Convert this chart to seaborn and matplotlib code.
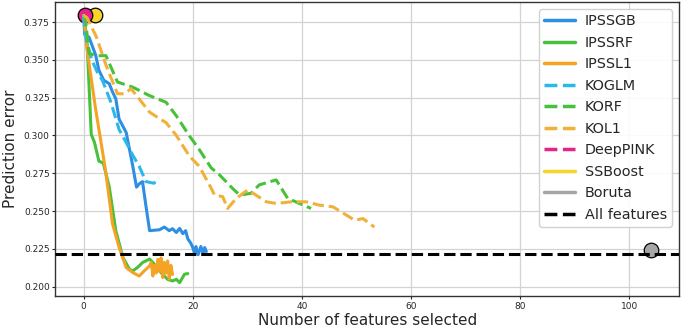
import numpy as np
import pandas as pd
import matplotlib
matplotlib.use("Agg")
import matplotlib.pyplot as plt
from matplotlib.lines import Line2D
import seaborn as sns

# IPSS curves (solid)
ipssgb_x = [0, 0.2, 1.0, 2.2, 2.8, 3.7, 4.7, 5.3, 5.9, 6.5, 7.8, 8.9, 9.7, 10.2, 10.8, 11.4,
            12.1, 13.9, 14.8, 15.7, 16.3, 17.0, 17.6, 18.2, 18.7, 19.1, 19.6, 20.0, 20.3,
            20.6, 21.0, 21.5, 21.9, 22.2, 22.5]
ipssgb_y = [0.3795, 0.3667, 0.365, 0.3533, 0.3432, 0.3365, 0.3343, 0.3288, 0.3243, 0.3109,
            0.302, 0.2819, 0.2658, 0.268, 0.2695, 0.254, 0.237, 0.2376, 0.2394, 0.237, 0.2383,
            0.2358, 0.2385, 0.235, 0.237, 0.2316, 0.229, 0.226, 0.2224, 0.2265, 0.2211,
            0.2265, 0.2218, 0.2258, 0.2232]

ipssrf_x = [0, 0.6, 1.4, 2.0, 2.8, 3.6, 4.7, 5.9, 7.2, 8.4, 9.0, 10.0, 10.8, 12.1, 12.7,
            13.9, 15.4, 16.3, 17.0, 17.6, 18.5, 19.1]
ipssrf_y = [0.3795, 0.3645, 0.3008, 0.2953, 0.283, 0.2818, 0.266, 0.237, 0.2193, 0.2115,
            0.2103, 0.213, 0.2159, 0.2182, 0.216, 0.2103, 0.2048, 0.2037, 0.2048, 0.2026,
            0.2082, 0.2086]

ipssl1_x = [0, 0.6, 2.2, 4.0, 5.3, 6.5, 7.8, 9.0, 10.2, 11.1, 12.1, 12.4, 12.7, 13.0, 13.3,
            13.6, 13.9, 14.2, 14.5, 14.8, 15.1, 15.4, 15.7, 16.0, 16.3]
ipssl1_y = [0.3795, 0.3578, 0.3175, 0.2774, 0.2415, 0.226, 0.2126, 0.2093, 0.207, 0.2103,
            0.2137, 0.216, 0.207, 0.214, 0.209, 0.218, 0.210, 0.219, 0.206, 0.216, 0.209,
            0.217, 0.205, 0.214, 0.208]

# knockoff curves (dashed)
koglm_x = [0, 0.5, 1.5, 2.5, 3.5, 5.0, 6.5, 8.0, 9.0, 10.2, 11.4, 12.9, 13.8]
koglm_y = [0.3795, 0.363, 0.350, 0.342, 0.336, 0.322, 0.304, 0.294, 0.287, 0.2796, 0.2695,
           0.2684, 0.2718]

korf_x = [0, 0.3, 1.0, 2.3, 4.1, 6.2, 9.0, 12.0, 15.1, 17.0, 19.4, 21.2, 23.4, 24.9, 27.3,
          28.6, 30.7, 32.2, 35.3, 37.4, 39.6, 41.7]
korf_y = [0.3795, 0.378, 0.3544, 0.3528, 0.3528, 0.3354, 0.332, 0.3265, 0.322, 0.313,
          0.2997, 0.2907, 0.2785, 0.274, 0.265, 0.2606, 0.2617, 0.2673, 0.2706, 0.2584,
          0.255, 0.2517]

kol1_x = [0, 0.6, 2.3, 4.1, 6.2, 7.5, 8.7, 12.1, 14.5, 15.1, 17.0, 19.4, 21.2, 23.4, 24.0,
          25.5, 26.4, 28.0, 30.1, 33.5, 35.3, 38.1, 40.8, 43.2, 45.7, 49.7, 51.2, 53.3]
kol1_y = [0.3795, 0.378, 0.3656, 0.3466, 0.3276, 0.3276, 0.331, 0.3154, 0.3098, 0.3086,
          0.300, 0.2863, 0.2796, 0.265, 0.2606, 0.2595, 0.2517, 0.2584, 0.264, 0.2561,
          0.255, 0.2561, 0.2561, 0.2539, 0.2528, 0.2439, 0.245, 0.2394]

# single-point methods
deeppink_x, deeppink_y = [0.3], [0.3794]
ssboost_x, ssboost_y = [2.0], [0.3794]
boruta_x, boruta_y = [104], [0.2242]
all_features_err = 0.2215

colors = {
    'IPSSGB': '#2e8ee3', 'IPSSRF': '#47c13a', 'IPSSL1': '#f5a324',
    'KOGLM': '#2bb8ea', 'KORF': '#47c13a', 'KOL1': '#f0b13a',
    'DeepPINK': '#e6238c', 'SSBoost': '#f7d628', 'Boruta': '#a6a6a6',
    'All features': 'black',
}

sns.set_style("ticks")
plt.rcParams['font.family'] = ['DejaVu Sans']

fig, ax = plt.subplots(figsize=(6.82, 3.3), dpi=100)
fig.subplots_adjust(left=0.081, right=0.996, top=0.994, bottom=0.103)
ax.grid(True, color='#d3d3d3', lw=0.9)
ax.set_axisbelow(True)

lw = 2.2
# markers first so the curves sit on top
for name, xs, ys, z in [('SSBoost', ssboost_x, ssboost_y, 2),
                        ('DeepPINK', deeppink_x, deeppink_y, 3),
                        ('Boruta', boruta_x, boruta_y, 2)]:
    sns.scatterplot(x=xs, y=ys, color=colors[name], s=110, edgecolor='black',
                    linewidth=0.9, ax=ax, zorder=z, legend=False)

curves = [
    ('IPSSGB', ipssgb_x, ipssgb_y, '-'),
    ('IPSSRF', ipssrf_x, ipssrf_y, '-'),
    ('IPSSL1', ipssl1_x, ipssl1_y, '-'),
    ('KOGLM', koglm_x, koglm_y, '--'),
    ('KORF', korf_x, korf_y, '--'),
    ('KOL1', kol1_x, kol1_y, '--'),
]
for name, xs, ys, ls in curves:
    df = pd.DataFrame({'n': xs, 'err': ys})
    sns.lineplot(data=df, x='n', y='err', color=colors[name], linestyle=ls, lw=lw,
                 estimator=None, sort=False, ax=ax, zorder=4)

ax.axhline(all_features_err, color='black', linestyle='--', lw=lw, zorder=4)

ax.set_xlabel('Number of features selected', fontsize=11, labelpad=1.5)
ax.set_ylabel('Prediction error', fontsize=11, labelpad=4)
ax.tick_params(labelsize=6.5, length=2.5, pad=1.5)
ax.set_xticks([0, 20, 40, 60, 80, 100])
ax.set_yticks([0.200, 0.225, 0.250, 0.275, 0.300, 0.325, 0.350, 0.375])
ax.yaxis.set_major_formatter(matplotlib.ticker.FormatStrFormatter('%.3f'))
for sp in ax.spines.values():
    sp.set_color('#333333')
    sp.set_linewidth(1.0)

styles = {'IPSSGB': '-', 'IPSSRF': '-', 'IPSSL1': '-', 'KOGLM': '--', 'KORF': '--',
          'KOL1': '--', 'DeepPINK': '--', 'SSBoost': '-', 'Boruta': '-',
          'All features': '--'}
handles = [Line2D([0], [0], color=colors[k], linestyle=v, lw=2.5) for k, v in styles.items()]
ax.legend(handles, list(styles.keys()), loc='upper right', fontsize=10.4,
          handlelength=2.1, handletextpad=0.7, frameon=True, framealpha=0.9,
          edgecolor='#cccccc', borderpad=0.35, labelspacing=0.52, borderaxespad=0.5)

fig.savefig('out.png', dpi=100)
